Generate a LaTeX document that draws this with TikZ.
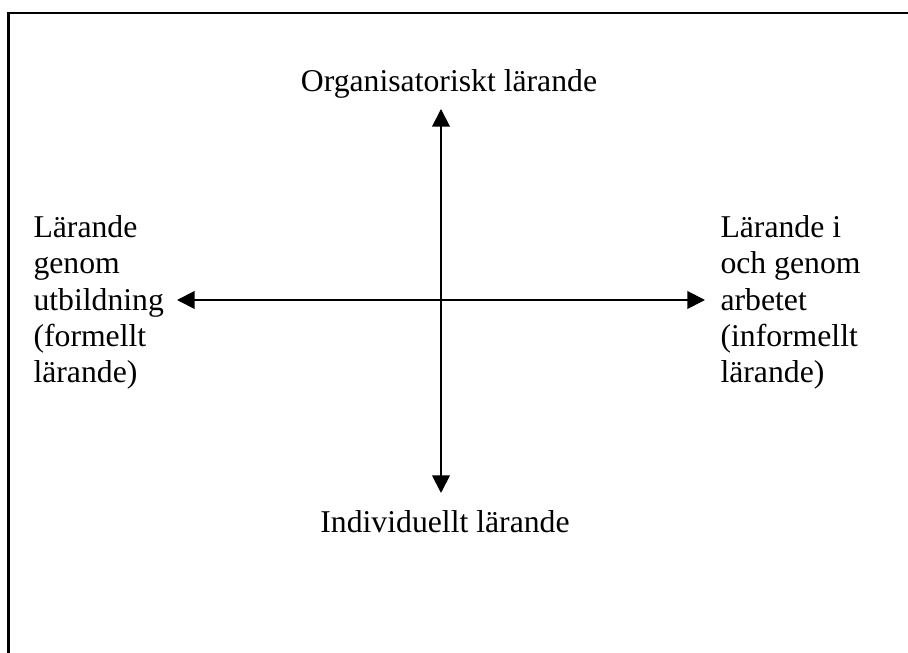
\documentclass[tikz,border=0pt]{standalone}
\usepackage{fontspec}
\setmainfont{Liberation Serif}
\usetikzlibrary{arrows.meta}
\tikzset{>={Triangle[length=6.8pt,width=6.8pt]}}
\tikzset{lbl/.style={font=\fontsize{12.2pt}{14pt}\selectfont,inner sep=0pt,align=left}}

\begin{document}
\begin{tikzpicture}[x=0.01352cm,y=-0.01352cm]
	\useasboundingbox (0,0) rectangle (908,653);
	% ram (bara topp och vänster syns)
	\draw[line width=1.1pt] (8.5,653) -- (8.5,13) -- (908,13);
	% axlar
	\coordinate (c) at (441,300);
	\coordinate (upp) at (441,109);
	\coordinate (ner) at (441,493);
	\coordinate (vänster) at (177,300);
	\coordinate (höger) at (705,300);
	\draw[<->,line width=0.75pt](upp)--(ner);
	\draw[<->,line width=0.75pt](vänster)--(höger);
	% texter
	\node[lbl,anchor=base] (org) at(449,92){Organisatoriskt lärande};
	\node[lbl,anchor=base] (ind) at(445,533){Individuellt lärande};
	\node[lbl,anchor=base west] (form) at(33,383){Lärande\\genom\\utbildning\\(formellt\\lärande)};
	\node[lbl,anchor=base west] (inform) at(720,383){Lärande i\\och genom\\arbetet\\(informellt\\lärande)};
\end{tikzpicture}
\end{document}
